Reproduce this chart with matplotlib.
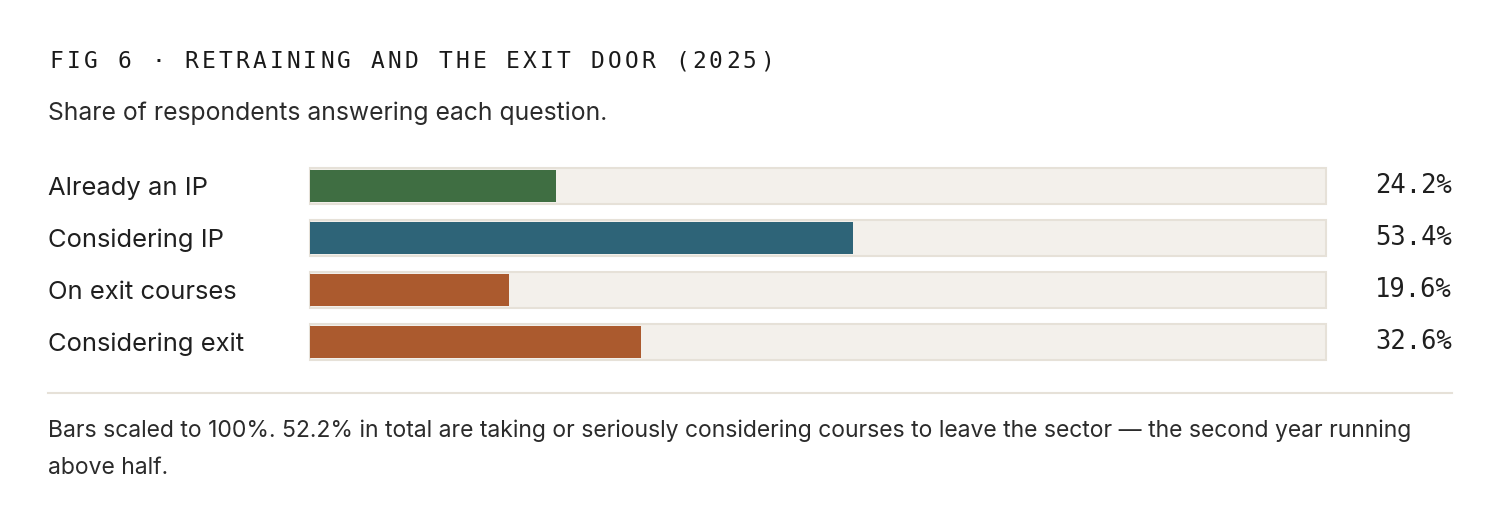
import matplotlib
matplotlib.use("Agg")
import matplotlib.pyplot as plt
from matplotlib.transforms import blended_transform_factory, ScaledTranslation

# --- data ---
categories = ["Already an IP", "Considering IP", "On exit courses", "Considering exit"]
values = [24.2, 53.4, 19.6, 32.6]
colors = ["#3f6e42", "#2e6478", "#ab5a2e", "#ab5a2e"]

title = "FIG 6 · RETRAINING AND THE EXIT DOOR (2025)"
subtitle = "Share of respondents answering each question."
note_lines = ["Bars scaled to 100%. 52.2% in total are taking or seriously considering courses "
              "to leave the sector \u2014 the second year running",
              "above half."]

W, H = 1500, 520
fig = plt.figure(figsize=(W / 100, H / 100), dpi=100)
fig.patch.set_facecolor("white")
renderer = fig.canvas.get_renderer()

def fx(px):
    return px / W

def fy(py):
    return 1 - py / H

def fit_size(s, family, target_px):
    # font size that makes string s about target_px wide
    t = fig.text(0, 0, s, family=family, fontsize=10)
    w = t.get_window_extent(renderer).width
    t.remove()
    return 10 * target_px / w

sans = ["Inter", "DejaVu Sans"]
mono = ["DejaVu Sans Mono"]
nudge = ScaledTranslation(0, -2.5 / 100, fig.dpi_scale_trans)  # ~2.5px down

# title, letter-spaced monospace
pitch = (775 - 48) / len(title)
for i, ch in enumerate(title):
    fig.text(fx(48 + pitch * (i + 0.5)), fy(62), ch, ha="center", va="center",
             family=mono, fontsize=16.5, color="#1a1a1a")

fig.text(fx(48), fy(111), subtitle, ha="left", va="center",
         transform=fig.transFigure + nudge,
         family=sans, fontsize=fit_size(subtitle, sans, 562), color="#2b2b2b")

# bars
row_h = 52
top = 160
ax = fig.add_axes([fx(310), fy(top + row_h * len(categories)), fx(1326) - fx(310),
                   row_h * len(categories) / H])
ax.set_xlim(0, 100)
ax.set_ylim(len(categories) - 0.5, -0.5)
ax.axis("off")

ypos = list(range(len(categories)))
ax.barh(ypos, [100] * len(categories), height=36 / row_h, left=0,
        color="#f3f0eb", edgecolor="#e6e1d8", linewidth=1.5, clip_on=False)
ax.barh(ypos, values, height=32 / row_h, left=0, color=colors, clip_on=False)

lab_fs = fit_size("Considering exit", sans, 198)
val_fs = fit_size("24.2%", mono, 77)
tr = blended_transform_factory(fig.transFigure, ax.transData)
for y, cat, v in zip(ypos, categories, values):
    ax.text(fx(48), y, cat, transform=tr + nudge, ha="left", va="center",
            family=sans, fontsize=lab_fs, color="#1f1f1f")
    ax.text(fx(1452), y, f"{v:.1f}%", transform=tr, ha="right", va="center",
            family=mono, fontsize=val_fs, color="#1f1f1f")

# separator
fig.add_artist(plt.Line2D([fx(48), fx(1452)], [fy(393), fy(393)],
                          color="#e6e1d8", linewidth=1.5))

note_fs = fit_size(note_lines[0], sans, 1372)
for line, py in zip(note_lines, [428, 466]):
    fig.text(fx(48), fy(py), line, ha="left", va="center", family=sans,
             transform=fig.transFigure + nudge,
             fontsize=note_fs, color="#2b2b2b")

fig.savefig("out.png", dpi=100, facecolor="white")
